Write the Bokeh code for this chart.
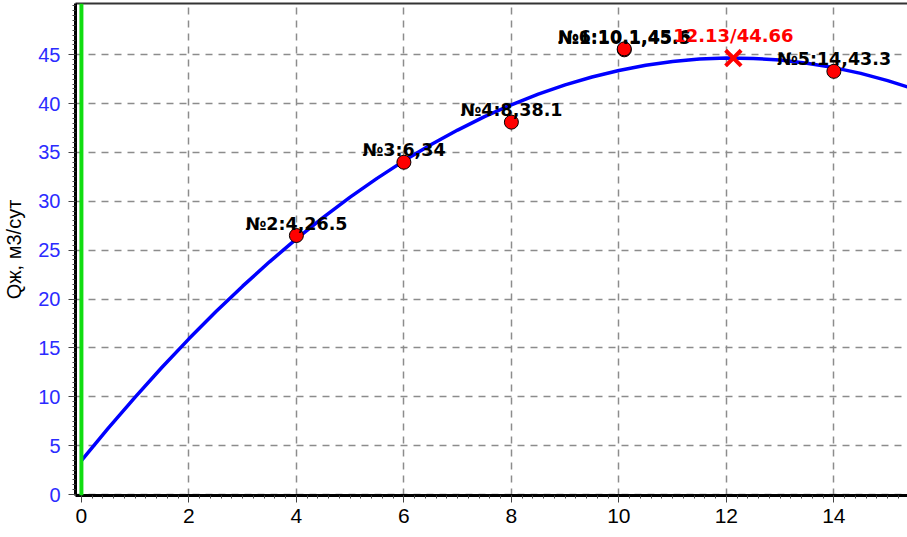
from bokeh.plotting import figure
from bokeh.models import Range1d, Span, LinearAxis, FixedTicker, SingleIntervalTicker, ColumnDataSource
from bokeh.core.properties import value
from bokeh.embed import file_html
from bokeh.resources import INLINE

# ---- data ----
well_ids = [2, 3, 4, 1, 6, 5]
well_x = [4, 6, 8, 10.1, 10.1, 14]
well_y = [26.5, 34, 38.1, 45.5, 45.6, 43.3]

curve_x = [0, 0.5, 1, 1.5, 2, 2.5, 3, 3.5, 4, 4.5, 5, 5.5, 6, 6.5, 7, 7.5, 8,
           8.5, 9, 9.5, 10, 10.5, 11, 11.5, 12, 12.5, 13, 13.5, 14, 14.5, 15, 15.5]
curve_y = [3.46, 6.79, 9.97, 13.02, 15.93, 18.69, 21.32, 23.81, 26.15, 28.36,
           30.43, 32.35, 34.14, 35.78, 37.29, 38.66, 39.88, 40.97, 41.92, 42.72,
           43.39, 43.92, 44.30, 44.55, 44.66, 44.62, 44.45, 44.13, 43.68, 43.09,
           42.35, 41.48]

max_x = [12.13]
max_y = [44.66]

y_ticks = [0, 5, 10, 15, 20, 25, 30, 35, 40, 45]
x_ticks = [0, 2, 4, 6, 8, 10, 12, 14]

y_label = "Qж, м3/сут"


def fmt(v):
    return f"{v:g}"


labels = [f"№{i}:{fmt(x)},{fmt(y)}" for i, x, y in zip(well_ids, well_x, well_y)]
max_labels = [f"{x:.2f}/{y:.2f}" for x, y in zip(max_x, max_y)]

p = figure(width=907, height=537, output_backend="svg", toolbar_location=None,
           x_range=Range1d(-0.11, 15.37), y_range=Range1d(-0.1, 50.24),
           min_border_left=74, min_border_right=0, min_border_top=3, min_border_bottom=42)
p.outline_line_color = None
p.background_fill_color = "white"
p.border_fill_color = "white"

# grid
for g in (p.xgrid, p.ygrid):
    g.grid_line_color = "#8c8c8c"
    g.grid_line_dash = "7 6"
    g.grid_line_width = 1.5

# axes
y_minor = [v / 2 for v in range(0, 101)]
x_minor = [v / 5 for v in range(0, 80)]
p.xaxis.ticker = FixedTicker(ticks=x_ticks, minor_ticks=x_minor)
p.yaxis.ticker = FixedTicker(ticks=y_ticks, minor_ticks=y_minor)
for ax in (p.xaxis, p.yaxis):
    ax.axis_line_width = 3
    ax.axis_line_color = "black"
    ax.major_tick_line_color = "#444444"
    ax.minor_tick_line_color = "#444444"
    ax.major_tick_out = 7
    ax.major_tick_in = 0
    ax.minor_tick_out = 3
    ax.minor_tick_in = 0
    ax.major_label_text_font = "Liberation Sans"

p.xaxis.major_label_text_font_size = "21px"
p.xaxis.major_label_text_color = "black"
p.xaxis.major_label_standoff = 6
p.yaxis.major_label_text_font_size = "20px"
p.yaxis.major_label_text_color = "#2b2bff"
p.yaxis.major_label_standoff = 8
p.yaxis.axis_label = y_label
p.yaxis.axis_label_text_font = "Liberation Sans"
p.yaxis.axis_label_text_font_size = "20px"
p.yaxis.axis_label_text_font_style = "normal"
p.yaxis.axis_label_text_color = "black"
p.yaxis.axis_label_standoff = 10

top = LinearAxis(ticker=FixedTicker(ticks=[]), axis_line_width=2, axis_line_color="#333333",
                 major_label_text_font_size="0px", major_tick_line_color=None,
                 minor_tick_line_color=None)
p.add_layout(top, "above")

# green vertical line at x = 0
p.add_layout(Span(location=0, dimension="height", line_color="#11dd11", line_width=4))

# fitted curve
p.line(curve_x, curve_y, line_color="#0000ff", line_width=3.5)

# wells
src = ColumnDataSource(dict(x=well_x, y=well_y, t=labels))
p.scatter("x", "y", source=src, size=14, fill_color="red", line_color="black", line_width=1)
p.text("x", "y", text="t", source=src, text_font=value("DejaVu Sans"), text_font_size="17.5px",
       text_font_style="bold", text_color="black", text_align="center",
       text_baseline="alphabetic", y_offset=-12)

# maximum
msrc = ColumnDataSource(dict(x=max_x, y=max_y, t=max_labels))
p.scatter("x", "y", source=msrc, marker="x", size=22, line_color="red", line_width=4)
p.text("x", "y", text="t", source=msrc, text_font=value("DejaVu Sans"), text_font_size="18px",
       text_font_style="bold", text_color="red", text_align="center",
       text_baseline="alphabetic", y_offset=-23)

open("out.html", "w").write(file_html(p, INLINE))
